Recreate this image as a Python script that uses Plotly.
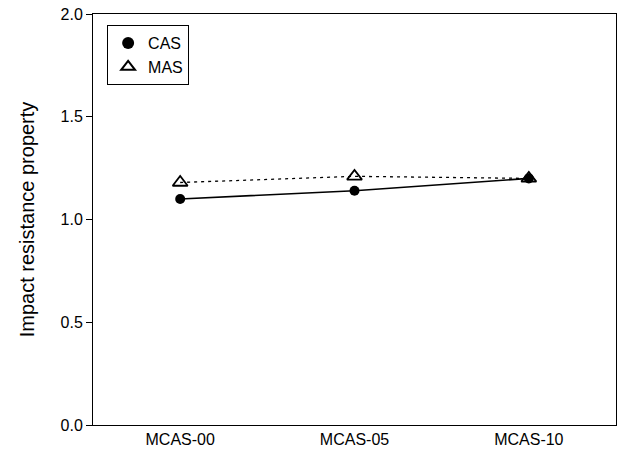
import plotly.graph_objects as go

categories = ["MCAS-00", "MCAS-05", "MCAS-10"]
cas_values = [1.10, 1.14, 1.20]
mas_values = [1.18, 1.21, 1.20]
y_ticks = [0.0, 0.5, 1.0, 1.5, 2.0]
y_tick_labels = ["0.0", "0.5", "1.0", "1.5", "2.0"]

fig = go.Figure()
fig.add_trace(go.Scatter(x=categories, y=mas_values, mode="lines",
                         line=dict(color="black", width=1.3, dash="3px,4px"), showlegend=False))
fig.add_trace(go.Scatter(x=categories, y=cas_values, mode="lines",
                         line=dict(color="black", width=1.6), showlegend=False))
fig.add_trace(go.Scatter(x=categories, y=cas_values, mode="markers", name="CAS",
                         marker=dict(symbol="circle", size=10, color="black")))
fig.add_trace(go.Scatter(x=categories, y=mas_values, mode="markers", name="MAS",
                         marker=dict(symbol="triangle-up-open", size=13, color="black",
                                     line=dict(width=1.8, color="black"))))

fig.update_layout(
    width=619, height=453,
    margin=dict(l=93, r=3, t=14, b=28),
    plot_bgcolor="white", paper_bgcolor="white",
    font=dict(family="Liberation Sans, Arial, sans-serif", size=16, color="black"),
    legend=dict(x=0.027, y=0.973, xanchor="left", yanchor="top",
                bordercolor="black", borderwidth=1, bgcolor="white",
                font=dict(size=16), tracegroupgap=0, itemwidth=30,
                entrywidth=40, entrywidthmode="pixels",
                itemsizing="constant"),
)
fig.update_xaxes(type="category", range=[-0.5, 2.5], showline=True, linecolor="black",
                 linewidth=1, mirror=True, ticks="", showgrid=False, zeroline=False,
                 tickfont=dict(size=16))
fig.update_yaxes(range=[0, 2], tickvals=y_ticks, ticktext=y_tick_labels,
                 showline=True, linecolor="black", linewidth=1, mirror=True,
                 ticks="outside", ticklen=6, tickcolor="black", showgrid=False,
                 zeroline=False, tickfont=dict(size=16),
                 title=dict(text="Impact resistance property", font=dict(size=20), standoff=20))

fig.write_html("out.html", config={"displayModeBar": False},
               post_script="document.body.style.margin='0';")
